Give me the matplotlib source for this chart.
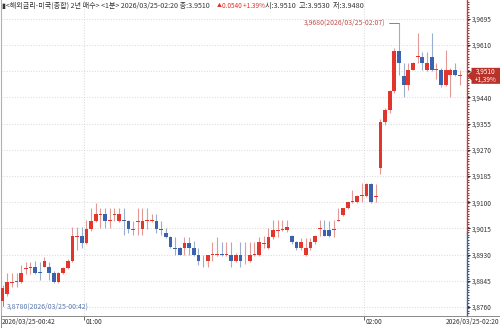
import numpy as np
import matplotlib
matplotlib.use('Agg')
import matplotlib.pyplot as plt
import matplotlib.transforms as mtransforms
from matplotlib.patches import Polygon, Rectangle

plt.rcParams['font.family'] = ['Noto Sans CJK KR', 'DejaVu Sans']

# ---------------- data ----------------
start_label = "2026/03/25-00:42"
end_label = "2026/03/25-02:20"
hour_tick_minutes = [18, 78]          # minutes after 00:42
hour_tick_labels = ["01:00", "02:00"]

opens = [3.8780, 3.8802, 3.8839, 3.8841, 3.8841, 3.8884, 3.8886, 3.8891, 3.8873, 3.8891,
         3.8891, 3.8872, 3.8841, 3.8869, 3.8887, 3.8909, 3.8986, 3.8990, 3.8969, 3.9012,
         3.9039, 3.9058, 3.9061, 3.9040, 3.9058, 3.9039, 3.9042, 3.9039, 3.9010, 3.9037,
         3.9012, 3.9039, 3.9040, 3.9039, 3.9013, 3.9000, 3.8988, 3.8951, 3.8950, 3.8950,
         3.8969, 3.8950, 3.8929, 3.8910, 3.8909, 3.8929, 3.8929, 3.8931, 3.8929, 3.8929,
         3.8909, 3.8929, 3.8908, 3.8909, 3.8928, 3.8929, 3.8965, 3.8950, 3.8988, 3.9008,
         3.9010, 3.9010, 3.8990, 3.8970, 3.8950, 3.8929, 3.8950, 3.8970, 3.9012, 3.9010,
         3.9010, 3.9010, 3.9040, 3.9058, 3.9080, 3.9100, 3.9100, 3.9120, 3.9120, 3.9159,
         3.9118, 3.9210, 3.9360, 3.9399, 3.9461, 3.9592, 3.9509, 3.9480, 3.9529, 3.9571,
         3.9572, 3.9529, 3.9572, 3.9528, 3.9529, 3.9480, 3.9513, 3.9529, 3.9510]
highs = [3.8830, 3.8870, 3.8870, 3.8870, 3.8896, 3.8905, 3.8905, 3.8910, 3.8907, 3.8923,
         3.8907, 3.8878, 3.8875, 3.8890, 3.8915, 3.9020, 3.9020, 3.9020, 3.9042, 3.9080,
         3.9098, 3.9080, 3.9080, 3.9080, 3.9080, 3.9080, 3.9080, 3.9042, 3.9039, 3.9080,
         3.9080, 3.9080, 3.9061, 3.9061, 3.9039, 3.9015, 3.8990, 3.8988, 3.8955, 3.8988,
         3.8988, 3.8975, 3.8950, 3.8929, 3.8929, 3.8972, 3.8988, 3.8972, 3.8972, 3.8972,
         3.8935, 3.8972, 3.8972, 3.8972, 3.8972, 3.8988, 3.8990, 3.9015, 3.9042, 3.9042,
         3.9042, 3.9042, 3.8995, 3.8975, 3.8985, 3.8985, 3.8985, 3.8995, 3.9042, 3.9042,
         3.9040, 3.9042, 3.9080, 3.9082, 3.9102, 3.9140, 3.9125, 3.9161, 3.9161, 3.9161,
         3.9160, 3.9370, 3.9405, 3.9465, 3.9600, 3.9680, 3.9552, 3.9551, 3.9556, 3.9649,
         3.9588, 3.9588, 3.9649, 3.9551, 3.9535, 3.9594, 3.9535, 3.9552, 3.9530]
lows = [3.8780, 3.8795, 3.8825, 3.8825, 3.8838, 3.8866, 3.8866, 3.8866, 3.8848, 3.8889,
        3.8848, 3.8838, 3.8838, 3.8866, 3.8885, 3.8905, 3.8945, 3.8951, 3.8965, 3.9008,
        3.9036, 3.9015, 3.9015, 3.9015, 3.9039, 3.9036, 3.8994, 3.9000, 3.8994, 3.8994,
        3.8994, 3.9012, 3.9036, 3.9000, 3.8994, 3.8985, 3.8950, 3.8930, 3.8928, 3.8930,
        3.8930, 3.8925, 3.8898, 3.8891, 3.8891, 3.8910, 3.8925, 3.8925, 3.8925, 3.8891,
        3.8905, 3.8891, 3.8900, 3.8905, 3.8926, 3.8926, 3.8950, 3.8948, 3.8980, 3.8988,
        3.9008, 3.9005, 3.8965, 3.8945, 3.8945, 3.8925, 3.8945, 3.8965, 3.8992, 3.8990,
        3.8988, 3.8988, 3.9038, 3.9055, 3.9078, 3.9098, 3.9098, 3.9100, 3.9118, 3.9098,
        3.9100, 3.9191, 3.9350, 3.9390, 3.9455, 3.9513, 3.9442, 3.9464, 3.9529, 3.9551,
        3.9529, 3.9527, 3.9525, 3.9500, 3.9475, 3.9478, 3.9441, 3.9510, 3.9480]
closes = [3.8822, 3.8841, 3.8842, 3.8843, 3.8869, 3.8887, 3.8888, 3.8869, 3.8871, 3.8909,
          3.8872, 3.8840, 3.8869, 3.8887, 3.8909, 3.8990, 3.8989, 3.8969, 3.9012, 3.9039,
          3.9061, 3.9061, 3.9039, 3.9043, 3.9061, 3.9061, 3.9039, 3.9012, 3.9013, 3.9040,
          3.9039, 3.9041, 3.9043, 3.9012, 3.9011, 3.8988, 3.8955, 3.8948, 3.8930, 3.8969,
          3.8950, 3.8929, 3.8909, 3.8908, 3.8929, 3.8931, 3.8931, 3.8929, 3.8931, 3.8909,
          3.8929, 3.8909, 3.8910, 3.8929, 3.8930, 3.8970, 3.8968, 3.8988, 3.9010, 3.9011,
          3.9012, 3.9021, 3.8970, 3.8950, 3.8970, 3.8950, 3.8970, 3.8992, 3.9015, 3.8992,
          3.8992, 3.9013, 3.9042, 3.9080, 3.9100, 3.9102, 3.9121, 3.9122, 3.9159, 3.9100,
          3.9121, 3.9361, 3.9399, 3.9461, 3.9592, 3.9551, 3.9480, 3.9529, 3.9551, 3.9573,
          3.9551, 3.9551, 3.9529, 3.9530, 3.9480, 3.9529, 3.9529, 3.9513, 3.9510]

y_ticks = [3.8760, 3.8845, 3.8930, 3.9015, 3.9100, 3.9185, 3.9270, 3.9355,
           3.9440, 3.9525, 3.9610, 3.9695]
y_limits = (3.8731, 3.9756)
split_level = 3.9000
last_change_pct = "+1,39%"

title_main = "▮<해외금리-미국(종합) 2년 매수> <1분> 2026/03/25-02:20 종:3.9510"
title_arrow = "▲"
title_change = "0.0540 +1.39%"
title_ohl = "시:3.9510  고:3.9530  저:3.9480"

# ---------------- style ----------------
RED = '#e2352b'
BLUE = '#3a62ad'
RED_WICK = '#e39a96'
BLUE_WICK = '#9aaed0'
GRID = '#d4d4d4'
TXT = '#333333'

W, H = 500, 328
fig = plt.figure(figsize=(W / 100, H / 100), dpi=100)
ax = fig.add_axes([0.5 / W, 12 / H, 466.5 / W, 316 / H])

o = np.array(opens); h = np.array(highs); l = np.array(lows); c = np.array(closes)
x = np.arange(len(o))
up = c >= o

ax.vlines(x, l, h, colors=np.where(up, RED_WICK, BLUE_WICK), lw=0.8, zorder=2)
body_bottom = np.minimum(o, c)
body_h = np.maximum(np.abs(c - o), 0.0003)
ax.bar(x, body_h, bottom=body_bottom, width=0.8,
       color=np.where(up, RED, BLUE), linewidth=0, zorder=3)

ax.set_xlim(-0.43, len(o) + 0.57)
ax.set_ylim(*y_limits)

# gridlines
for v in y_ticks:
    ax.axhline(v, color=GRID, lw=0.6, ls=(0, (1.2, 2)), zorder=1)
hour_pos = [m - 0.5 for m in hour_tick_minutes]
for p in hour_pos:
    ax.axvline(p, color=GRID, lw=0.6, ls=(0, (1.2, 2)), zorder=1)

# spines
for s in ['top', 'right', 'bottom']:
    ax.spines[s].set_visible(False)
ax.spines['left'].set_color('#b0b0b0')
ax.spines['left'].set_linewidth(0.8)

# right axis line, red above split, blue below
ytr = ax.get_yaxis_transform()
ax.plot([1, 1], [split_level, y_limits[1]], color=RED, lw=1.0, transform=ytr, clip_on=False, zorder=4)
ax.plot([1, 1], [y_limits[0], split_level], color=BLUE, lw=1.0, transform=ytr, clip_on=False, zorder=4)

last = c[-1]
dy = 8 * (y_limits[1] - y_limits[0]) / 316

# y ticks (label hidden where the current-price box sits)
ax.yaxis.tick_right()
ax.set_yticks(y_ticks)
ax.set_yticklabels(['' if abs(v - last) < 2 * dy else f"{v:.4f}".replace('.', ',')
                    for v in y_ticks])
minor = np.arange(y_limits[0], y_limits[1], 0.00085)
ax.set_yticks(minor, minor=True)
ax.tick_params(axis='y', which='major', length=2.5, width=0.6, pad=1.0,
               labelsize=4.7, labelcolor=TXT)
ax.tick_params(axis='y', which='minor', length=1.2, width=0.5)
for loc, t in zip(y_ticks, ax.yaxis.get_major_ticks()):
    t.tick2line.set_color(RED if loc >= split_level else BLUE)
for loc, t in zip(minor, ax.yaxis.get_minor_ticks(len(minor))):
    t.tick2line.set_color(RED if loc >= split_level else BLUE)

# x ticks
ax.set_xticks(hour_pos)
ax.tick_params(axis='x', length=3, width=0.6, color='#555555', labelbottom=False)

# bottom band
fig.add_artist(Rectangle((0.5 / W, 0.5 / H), 499 / W, 11.5 / H, transform=fig.transFigure,
                         fill=False, ec='#8a8a8a', lw=0.7))
bt = mtransforms.blended_transform_factory(ax.transData, fig.transFigure)
for p, lab in zip(hour_pos, hour_tick_labels):
    fig.text(p + 0.25, 6 / H, lab, transform=bt, ha='left', va='center', fontsize=4.8, color=TXT)
fig.text(1.5 / W, 6 / H, start_label, ha='left', va='center', fontsize=4.8, color=TXT)
fig.text(499 / W, 6 / H, end_label, ha='right', va='center', fontsize=4.8, color=TXT)

# title
ty = 1 - 6 / H
fig.text(2 / W, ty, title_main, ha='left', va='center', fontsize=5.1, color=TXT)
fig.text(217 / W, ty, title_arrow, ha='left', va='center', fontsize=3.6, color='#e0302a')
fig.text(222 / W, ty, title_change, ha='left', va='center', fontsize=4.6, color='#e0302a')
fig.text(265 / W, ty, title_ohl, ha='left', va='center', fontsize=5.2, color=TXT)

# max / min annotations
imax = int(np.argmax(h)); imin = int(np.argmin(l))
ax.annotate(f"{h[imax]:.4f}".replace('.', ',') + "(2026/03/25-02:07)",
            xy=(imax, h[imax]), xytext=(-10, 0.6), textcoords='offset points',
            ha='right', va='center', fontsize=5, color='#c0504d',
            arrowprops=dict(arrowstyle='-', color='#c0504d', lw=0.6, shrinkA=0.5, shrinkB=0,
                            connectionstyle='angle,angleA=0,angleB=90,rad=0'), zorder=6)
ax.annotate(f"{l[imin]:.4f}".replace('.', ',') + "(2026/03/25-00:42)",
            xy=(imin, l[imin]), xytext=(3, -4), textcoords='offset points',
            ha='left', va='center', fontsize=5, color='#5a78ad',
            arrowprops=dict(arrowstyle='-', color='#5a78ad', lw=0.6, shrinkA=0.5, shrinkB=0,
                            connectionstyle='angle,angleA=0,angleB=90,rad=0'), zorder=6)

# current price box
x0 = 1.0
xr = 500 / 466.5
xn = 1.0 + 4.5 / 466.5
box = Polygon([(x0, last), (xn, last + dy * 0.55), (xn, last + dy), (xr, last + dy),
               (xr, last - dy), (xn, last - dy), (xn, last - dy * 0.55)],
              closed=True, transform=ytr, clip_on=False, fc='#b8322a', ec='none', zorder=7)
ax.add_patch(box)
ax.text((xn + xr) / 2, last, f"{last:.4f}".replace('.', ',') + "\n" + last_change_pct,
        transform=ytr, ha='center', va='center', fontsize=4.6, color='white',
        linespacing=1.0, zorder=8, clip_on=False)

fig.savefig('out.png', dpi=100)
